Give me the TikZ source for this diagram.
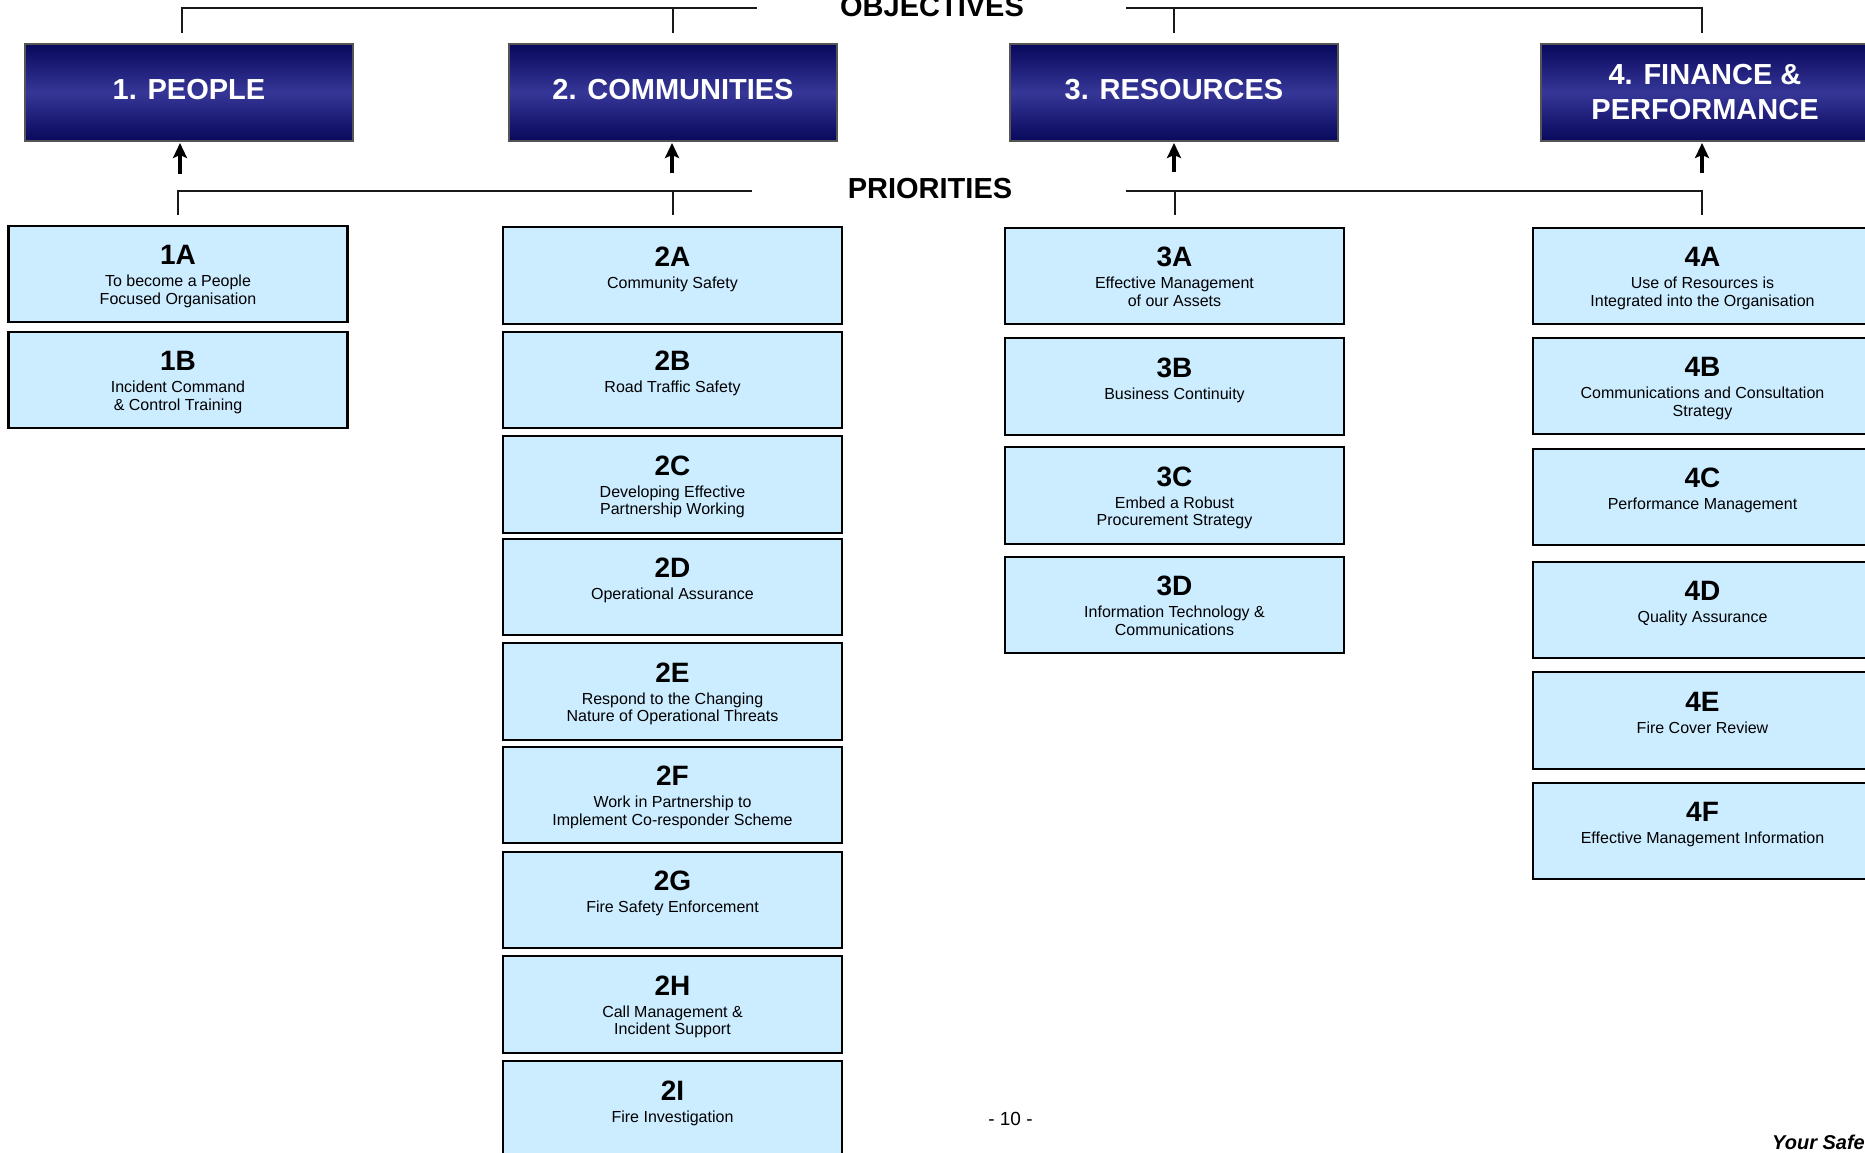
\documentclass[tikz,border=0pt]{standalone}
\usepackage{fontspec}
\setmainfont{Liberation Sans}
\usetikzlibrary{calc,arrows.meta}
\definecolor{navyD}{RGB}{8,8,92}
\definecolor{navyL}{RGB}{54,54,152}
\definecolor{lightB}{RGB}{204,236,255}
\definecolor{lineC}{RGB}{25,25,25}
\newcommand\prio[5]{%
  \node[pbox] (#1) at (#2,#3) {};
  \node[lbl] (#1l) at ($(#1.north)+(0,39)$) {#4};
  \node[dsc] (#1d) at ($(#1.north)+(0,48.2)$) {\strut #5};
}
\begin{document}
\begin{tikzpicture}[x=1pt,y=-1pt,
  obox/.style={draw={rgb,255:red,85;green,85;blue,85}, line width=1.5pt,
    top color=navyD, bottom color=navyD, middle color=navyL,
    minimum width=328pt, minimum height=97pt, inner sep=0pt, outer sep=0pt,
    text=white, font=\fontsize{29}{35}\selectfont\bfseries, align=center},
  otitle/.style={obox, text height=21pt, text depth=7pt},
  pbox/.style={draw=black, line width=2.2pt, fill=lightB,
    minimum width=339pt, minimum height=96.5pt, inner sep=0pt, outer sep=0pt},
  lbl/.style={anchor=base, inner sep=0pt, font=\fontsize{28}{30}\selectfont\bfseries},
  dsc/.style={anchor=north, inner sep=0pt, align=center, font=\fontsize{16}{17.8}\selectfont},
  hdr/.style={anchor=base, inner sep=0pt, font=\fontsize{29}{35}\selectfont\bfseries},
  conn/.style={draw=lineC, line width=2pt},
  uarr/.style={draw=black, line width=3.5pt, -{Stealth[length=15pt,width=14pt,inset=3pt]}, shorten >=2pt}
]
\clip (0,0) rectangle (1865,1152);
\fill[white] (0,0) rectangle (1865,1152);

% objective boxes
\node[otitle] (o1) at (189,92.5) {1. PEOPLE};
\node[otitle] (o2) at (673,92.5) {2. COMMUNITIES};
\node[otitle] (o3) at (1174,92.5) {3. RESOURCES};
\node[obox] (o4) at (1705,92.5) {4. FINANCE \&\\PERFORMANCE};

% headings
\node[hdr] (objt) at (932,16) {OBJECTIVES};
\node[hdr] (prit) at (930,198) {PRIORITIES};

% priority boxes
\prio{p1A}{178}{274}{1A}{To become a People\\Focused Organisation}
\prio{p1B}{178}{380}{1B}{Incident Command\\\& Control Training}

\prio{p2A}{672.5}{275.5}{2A}{Community Safety}
\prio{p2B}{672.5}{380}{2B}{Road Traffic Safety}
\prio{p2C}{672.5}{484.5}{2C}{Developing Effective\\Partnership Working}
\prio{p2D}{672.5}{587}{2D}{Operational Assurance}
\prio{p2E}{672.5}{691.5}{2E}{Respond to the Changing\\Nature of Operational Threats}
\prio{p2F}{672.5}{795}{2F}{Work in Partnership to\\Implement Co-responder Scheme}
\prio{p2G}{672.5}{900}{2G}{Fire Safety Enforcement}
\prio{p2H}{672.5}{1004.5}{2H}{Call Management \&\\Incident Support}
\prio{p2I}{672.5}{1109.5}{2I}{Fire Investigation}

\prio{p3A}{1174.5}{276}{3A}{Effective Management\\of our Assets}
\prio{p3B}{1174.5}{386.5}{3B}{Business Continuity}
\prio{p3C}{1174.5}{495.5}{3C}{Embed a Robust\\Procurement Strategy}
\prio{p3D}{1174.5}{605}{3D}{Information Technology \&\\Communications}

\prio{p4A}{1702.5}{276}{4A}{Use of Resources is\\Integrated into the Organisation}
\prio{p4B}{1702.5}{386}{4B}{Communications and Consultation\\Strategy}
\prio{p4C}{1702.5}{497}{4C}{Performance Management}
\prio{p4D}{1702.5}{610}{4D}{Quality Assurance}
\prio{p4E}{1702.5}{720.5}{4E}{Fire Cover Review}
\prio{p4F}{1702.5}{831}{4F}{Effective Management Information}

% objectives bracket
\coordinate (oa) at (182,33);
\coordinate (ob) at (182,8);
\coordinate (oc) at (757,8);
\draw[conn] (oa) -- (ob) -- (oc);
\draw[conn] (o2.north |- ob) -- (o2.north |- oa);
\coordinate (od) at (1126,8);
\coordinate (oe) at (1702,8);
\coordinate (of) at (1702,33);
\draw[conn] (od) -- (oe) -- (of);
\draw[conn] (o3.north |- ob) -- (o3.north |- oa);

% priorities bracket
\coordinate (pa) at (178,215);
\coordinate (pb) at (178,190.5);
\coordinate (pc) at (752,190.5);
\draw[conn] (pa) -- (pb) -- (pc);
\draw[conn] (p2A.north |- pb) -- (p2A.north |- pa);
\coordinate (pd) at (1126,190.5);
\coordinate (pe) at (1702,190.5);
\coordinate (pf) at (1702,215);
\draw[conn] (pd) -- (pe) -- (pf);
\draw[conn] (p3A.north |- pb) -- (p3A.north |- pa);

% arrows up to objectives
\coordinate (a1) at (180,174);
\coordinate (a2) at (672,173);
\coordinate (a3) at (1174,172);
\coordinate (a4) at (1702,173);
\draw[uarr] (a1) -- (a1 |- o1.south);
\draw[uarr] (a2) -- (a2 |- o2.south);
\draw[uarr] (a3) -- (a3 |- o3.south);
\draw[uarr] (a4) -- (a4 |- o4.south);

% footer
\node[anchor=base, inner sep=0pt, font=\fontsize{19}{22}\selectfont] (pg) at (1010.5,1125) {- 10 -};
\node[anchor=base west, inner sep=0pt, font=\fontsize{20}{24}\selectfont\bfseries\itshape] (ys) at (1772,1149) {Your Safety};
\end{tikzpicture}
\end{document}
